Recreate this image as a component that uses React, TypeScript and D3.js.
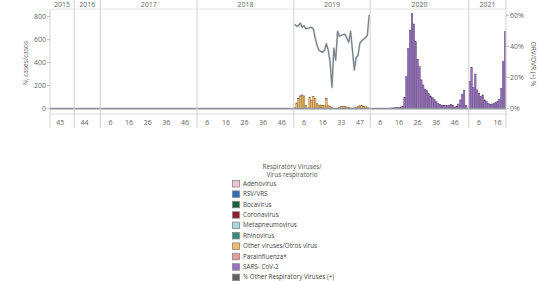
import React from "react";
import * as d3 from "d3";

// weeks present per year (discrete axis, Tableau style)
const years = [2015, 2016, 2017, 2018, 2019, 2020, 2021];
const weeksByYear: Record<number, number[]> = {
  2015: d3.range(40, 53),
  2016: d3.range(39, 53),
  2017: d3.range(1, 53),
  2018: d3.range(1, 53),
  2019: [
    1, 2, 3, 4, 5, 6, 7, 8, 9, 10, 11, 12, 13, 14, 15, 16,
    17, 18, 19, 20, 21, 23, 25, 28, 31, 33,
    34, 35, 36, 37, 38, 40, 42, 44, 45,
    47, 48, 49, 50, 51, 52,
  ],
  2020: d3.range(1, 54),
  2021: d3.range(1, 21),
};

// cases per week
const otherViruses2019 = [
  10, 50, 85, 105, 115, 110, 30, 5, 99, 70, 104, 90, 47, 32, 32, 25,
  30, 84, 30, 18, 8, 3, 3, 5, 12, 20, 22, 20, 15, 10, 5, 3, 5, 12,
  20, 25, 25, 22, 18, 10, 5,
];
const parainfluenza2019 = [
  0, 0, 2, 6, 5, 0, 0, 0, 0, 4, 3, 0, 0, 0, 0, 0, 0, 2, 0, 0, 0,
  0, 0, 0, 0, 0, 0, 0, 0, 0, 0, 0, 0, 0, 0, 0, 0, 0, 0, 0, 0,
];
const sarsCov2020 = [
  0, 0, 0, 0, 1, 1, 2, 2, 3, 3, 4, 5, 6, 8, 10, 12, 14, 18,
  96, 278, 525, 684, 830, 737, 583, 430, 365, 250, 206, 170, 157,
  130, 110, 95, 80, 61, 45, 35, 30, 27, 30, 28, 30, 37, 25, 14, 22,
  40, 76, 125, 160, 30, 5,
];
const sarsCov2021 = [
  235, 360, 186, 301, 163, 134, 104, 119, 76, 60, 45, 38, 40, 45,
  52, 61, 82, 177, 409, 670,
];

// % other respiratory viruses positive, 2019
const pctOther2019 = [
  54.2, 52.9, 53.4, 55.0, 52.3, 53.2, 51.3, 51.6, 52.0, 52.2, 51.2,
  45.2, 40.7, 37.5, 36.8, 36.2, 37.5, 41.7, 37.5, 29.8, 13.7, 38.8,
  31.1, 49.7, 46.5, 47.1, 47.5, 47.8, 45.2, 42.6, 49.7, 37.5, 24.8,
  32.7, 34.3, 42.0, 43.6, 44.6, 45.5, 47.1, 60.2,
];

const leftTicks = [0, 200, 400, 600, 800];
const rightTicks = [0, 0.2, 0.4, 0.6];

const legendItems = [
  { name: "Adenovirus", color: "#f5c3d6" },
  { name: "RSV/VRS", color: "#2f6fb3" },
  { name: "Bocavirus", color: "#17613a" },
  { name: "Coronavirus", color: "#8c1b2c" },
  { name: "Metapneumovirus", color: "#a5d6e2" },
  { name: "Rhinovirus", color: "#2f8b80" },
  { name: "Other viruses/Otros virus", color: "#f2b967" },
  { name: "Parainfluenza*", color: "#f39a92" },
  { name: "SARS- CoV-2", color: "#9b71c3" },
  { name: "% Other Respiratory Viruses (+)", color: "#5f6368" },
];

const seriesByYear: Record<number, { key: string; vals: number[] }[]> = {
  2019: [
    { key: "Other viruses/Otros virus", vals: otherViruses2019 },
    { key: "Parainfluenza*", vals: parainfluenza2019 },
  ],
  2020: [{ key: "SARS- CoV-2", vals: sarsCov2020 }],
  2021: [{ key: "SARS- CoV-2", vals: sarsCov2021 }],
};

const App = () => {
  const W = 538;
  const H = 281;
  const left = 50;
  const right = 506;
  const top = 9;
  const zeroY = 108.6;
  const axisBottom = 114;
  const font = "'Open Sans', sans-serif";
  const textColor = "#666";

  const keys: string[] = [];
  years.forEach((yr) => weeksByYear[yr].forEach((w) => keys.push(`${yr}-${w}`)));

  const x = d3.scaleBand<string>().domain(keys).range([left, right]).padding(0);
  const y = d3.scaleLinear().domain([0, 867]).range([zeroY, top]);
  const yPct = d3.scaleLinear().domain([0, 0.64]).range([zeroY, top]);
  const colorOf = (k: string) => legendItems.find((d) => d.name === k)!.color;

  const panels = years.map((yr) => {
    const ws = weeksByYear[yr];
    const x0 = x(`${yr}-${ws[0]}`)!;
    const x1 = x(`${yr}-${ws[ws.length - 1]}`)! + x.bandwidth();
    return { yr, x0, x1 };
  });

  const bars: { x: number; y0: number; y1: number; color: string }[] = [];
  years.forEach((yr) => {
    const series = seriesByYear[yr];
    if (!series) return;
    weeksByYear[yr].forEach((w, i) => {
      let acc = 0;
      series.forEach((s) => {
        const v = s.vals[i] || 0;
        if (v > 0) {
          bars.push({
            x: x(`${yr}-${w}`)!,
            y0: y(acc),
            y1: y(acc + v),
            color: colorOf(s.key),
          });
        }
        acc += v;
      });
    });
  });

  const line = d3
    .line<number>()
    .x((_, i) => x(`2019-${weeksByYear[2019][i]}`)! + x.bandwidth() / 2)
    .y((d) => yPct(d / 100));

  const bw = x.bandwidth();

  return (
    <svg width={W} height={H} style={{ position: "absolute", left: 0, top: 0 }} fontFamily={font}>
      <rect width={W} height={H} fill="#fff" />
      {/* header and frame lines */}
      <line x1={left} x2={right} y1={top} y2={top} stroke="#e6e6e6" />
      <line x1={left} x2={right} y1={axisBottom} y2={axisBottom} stroke="#d9d9d9" />
      <line x1={left} x2={left} y1={top} y2={128} stroke="#d4d4d4" />

      {/* bars */}
      {bars.map((b, i) => (
        <rect
          key={i}
          x={b.x + 0.15}
          y={b.y1}
          width={bw - 0.3}
          height={Math.max(0, b.y0 - b.y1)}
          fill={b.color}
          stroke={d3.color(b.color)!.darker(1.6).formatHex()}
          strokeWidth={0.45}
        />
      ))}

      {/* zero line */}
      <line x1={left} x2={right} y1={zeroY} y2={zeroY} stroke="#8e949a" strokeWidth={1.8} />

      {/* panel dividers */}
      {panels.slice(1).map((p) => (
        <line key={p.yr} x1={p.x0} x2={p.x0} y1={0} y2={128} stroke="#d0d0d0" strokeWidth={1} />
      ))}
      <line x1={right} x2={right} y1={0} y2={128} stroke="#d0d0d0" />

      {/* % line */}
      <path d={line(pctOther2019)!} fill="none" stroke="#eef0f1" strokeWidth={2.6} strokeLinejoin="round" />
      <path d={line(pctOther2019)!} fill="none" stroke="#7a858c" strokeWidth={1.4} strokeLinejoin="round" />

      {/* year labels */}
      {panels.map((p) => (
        <text key={p.yr} x={(p.x0 + p.x1) / 2} y={6.5} textAnchor="middle" fontSize={7} fill={textColor}>
          {p.yr}
        </text>
      ))}

      {/* week labels */}
      {years.map((yr) =>
        weeksByYear[yr].map((w, i) =>
          i % 10 === 5 ? (
            <text
              key={`${yr}-${w}`}
              x={x(`${yr}-${w}`)! + bw / 2}
              y={124.5}
              textAnchor="middle"
              fontSize={7}
              fill={textColor}
            >
              {w}
            </text>
          ) : null
        )
      )}

      {/* left axis */}
      {leftTicks.map((t) => (
        <g key={t} transform={`translate(0,${y(t)})`}>
          <line x1={left - 3} x2={left} stroke="#bbb" />
          <text x={left - 4} dy="0.33em" textAnchor="end" fontSize={7} fill={textColor}>
            {t}
          </text>
        </g>
      ))}
      <text
        transform={`translate(27.5,63) rotate(-90)`}
        textAnchor="middle"
        fontSize={6.5}
        fill={textColor}
      >
        N, cases/casos
      </text>

      {/* right axis */}
      {rightTicks.map((t) => (
        <g key={t} transform={`translate(0,${yPct(t)})`}>
          <line x1={right} x2={right + 3} stroke="#bbb" />
          <text x={right + 4} dy="0.33em" textAnchor="start" fontSize={7} fill={textColor}>
            {d3.format(".0%")(t)}
          </text>
        </g>
      ))}
      <text
        transform={`translate(531,64) rotate(90)`}
        textAnchor="middle"
        fontSize={6.5}
        fill={textColor}
      >
        ORV/OVR (+) %
      </text>

      {/* legend */}
      <text x={292} y={169} textAnchor="middle" fontSize={6.3} fill="#555">
        Respiratory Viruses/
      </text>
      <text x={292} y={177} textAnchor="middle" fontSize={6.3} fill="#555">
        Virus respiratorio
      </text>
      {legendItems.map((d, i) => (
        <g key={d.name} transform={`translate(232,${180 + i * 10.4})`}>
          <rect x={0.5} y={0.5} width={7} height={6.5} fill={d.color} stroke="#888" strokeWidth={0.8} />
          <text x={11} y={5.8} fontSize={6.3} fill="#444">
            {d.name}
          </text>
        </g>
      ))}
    </svg>
  );
};

export default App;
